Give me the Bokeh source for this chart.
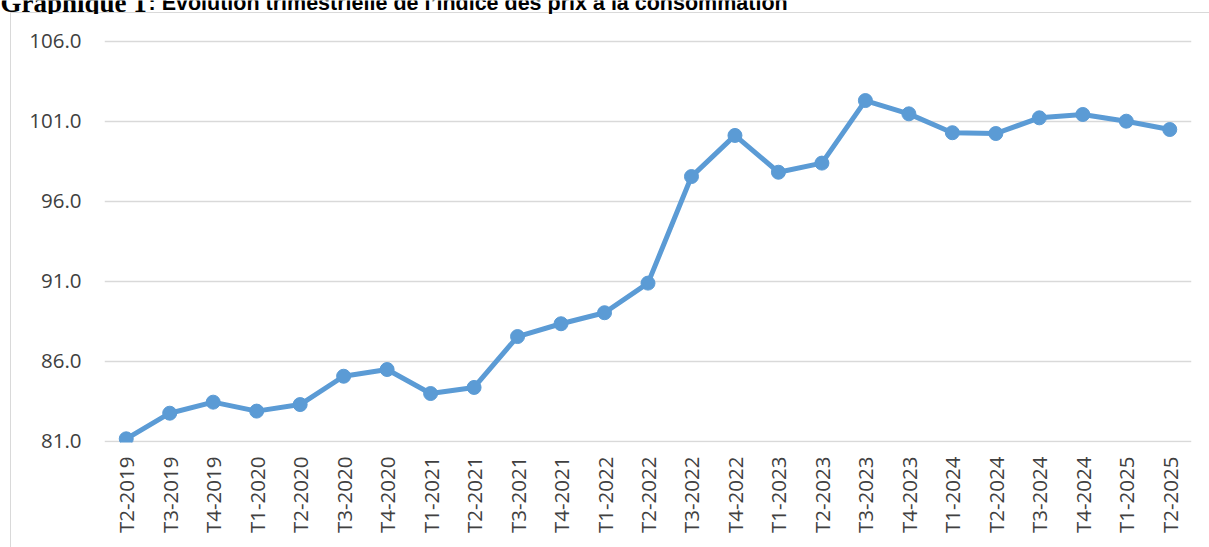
import math
from bokeh.plotting import figure
from bokeh.models import FixedTicker, PrintfTickFormatter, Range1d, Label, ColumnDataSource
from bokeh.embed import file_html
from bokeh.resources import INLINE

# ---- data ----
quarters = ["T2-2019", "T3-2019", "T4-2019", "T1-2020", "T2-2020", "T3-2020", "T4-2020",
            "T1-2021", "T2-2021", "T3-2021", "T4-2021", "T1-2022", "T2-2022", "T3-2022",
            "T4-2022", "T1-2023", "T2-2023", "T3-2023", "T4-2023", "T1-2024", "T2-2024",
            "T3-2024", "T4-2024", "T1-2025", "T2-2025"]
ipc = [81.15, 82.75, 83.44, 82.88, 83.29, 85.06, 85.48,
       83.98, 84.36, 87.54, 88.34, 89.03, 90.88, 97.54,
       100.11, 97.81, 98.38, 102.29, 101.46, 100.28, 100.23,
       101.21, 101.42, 101.00, 100.48]
y_ticks = [81, 86, 91, 96, 101, 106]
title_part1 = "Graphique 1"
title_part2 = ": Évolution trimestrielle de l’indice des prix à la consommation"

W, H = 1209, 547
FRAME_L, FRAME_R, FRAME_T, FRAME_B = 104, 1191, 39, 442
TH = 14  # height of the title strip

border_css = ("linear-gradient(#d9d9d9,#d9d9d9) 10px 12px / 1px 100% no-repeat, "
              "linear-gradient(#d9d9d9,#d9d9d9) 10px 12px / 100% 1px no-repeat")

# ---- main chart ----
p = figure(width=W, height=H, x_range=quarters, y_range=Range1d(80.919, 106.106),
           output_backend="svg", toolbar_location=None, title=None,
           min_border_left=FRAME_L, min_border_right=W - FRAME_R,
           min_border_top=FRAME_T, min_border_bottom=H - FRAME_B,
           border_fill_color=None, background_fill_color=None,
           styles={"margin": "0px", "background": border_css})
p.outline_line_color = None

p.yaxis.ticker = FixedTicker(ticks=y_ticks)
p.yaxis.formatter = PrintfTickFormatter(format="%.1f")
p.yaxis.axis_line_color = None
p.yaxis.major_tick_line_color = None
p.yaxis.minor_tick_line_color = None
p.yaxis.major_tick_out = 0
p.yaxis.major_tick_in = 0
p.yaxis.major_label_standoff = 23
p.yaxis.major_label_text_font = "Open Sans"
p.yaxis.major_label_text_font_size = "20.5px"
p.yaxis.major_label_text_color = "#404040"

p.xaxis.axis_line_color = None
p.xaxis.major_tick_line_color = None
p.xaxis.minor_tick_line_color = None
p.xaxis.major_tick_out = 0
p.xaxis.major_tick_in = 0
p.xaxis.major_label_standoff = 14
p.xaxis.major_label_orientation = math.pi / 2
p.xaxis.major_label_text_font = "Open Sans"
p.xaxis.major_label_text_font_size = "20.5px"
p.xaxis.major_label_text_color = "#404040"

p.xgrid.grid_line_color = None
p.ygrid.ticker = FixedTicker(ticks=y_ticks)
p.ygrid.grid_line_color = "#d9d9d9"
p.ygrid.grid_line_width = 1.5

src = ColumnDataSource(dict(q=quarters, v=ipc))
p.line("q", "v", source=src, line_color="#5b9bd5", line_width=5, line_join="round")
p.scatter("q", "v", source=src, size=14, fill_color="#5b9bd5", line_color="#5b9bd5")

# ---- title strip (its top is cut off by the page edge, as in the reference) ----
tfig = figure(width=W, height=TH, x_range=Range1d(0, W), y_range=Range1d(0, TH),
              output_backend="svg", toolbar_location=None, title=None,
              x_axis_location=None, y_axis_location=None, min_border=0,
              border_fill_color=None, background_fill_color=None,
              styles={"position": "absolute", "top": "0px", "left": "0px"})
tfig.outline_line_color = None
tfig.grid.visible = False
tfig.add_layout(Label(x=0, y=TH - 2.5, text=title_part1,
                      text_font="Liberation Serif", text_font_style="bold",
                      text_font_size="27px", text_color="#000000", text_baseline="alphabetic"))
tfig.add_layout(Label(x=148, y=TH - 2.5, text=title_part2,
                      text_font="Liberation Sans", text_font_style="bold",
                      text_font_size="21.5px", text_color="#000000", text_baseline="alphabetic"))

open("out.html", "w").write(file_html([p, tfig], INLINE))
